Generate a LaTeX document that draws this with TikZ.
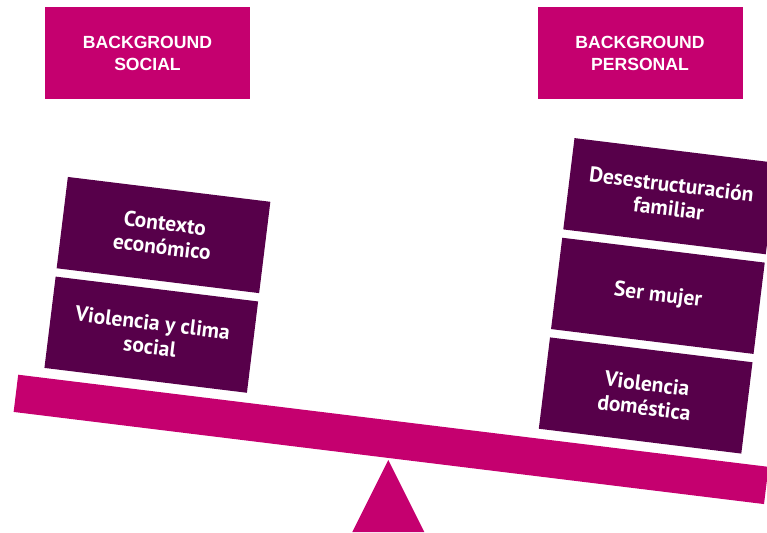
\documentclass[tikz,border=0pt]{standalone}
\usepackage{fontspec}
\setmainfont{PT Sans}
\newfontfamily\headfont{Liberation Sans}
\usetikzlibrary{positioning}
\definecolor{balancepink}{HTML}{C5006F}
\definecolor{balanceplum}{HTML}{57004A}
\tikzset{
  headbox/.style={fill=balancepink,text=white,minimum width=205pt,minimum height=92pt,
    inner sep=0pt,align=center,font=\headfont\bfseries\fontsize{17.6}{22}\selectfont},
  factorbox/.style={fill=balanceplum,text=white,minimum width=204pt,minimum height=92pt,
    inner sep=0pt,align=center,font=\bfseries\fontsize{21.5}{24}\selectfont}
}
\begin{document}
\begin{tikzpicture}[x=1pt,y=1pt]
  \useasboundingbox (0,0) rectangle (767,532);
  % headings
  \node[headbox] (social) at (147.5,479) {BACKGROUND\\SOCIAL};
  \node[headbox] (personal) at (640,479) {BACKGROUND\\PERSONAL};
  % fulcrum
  \coordinate (tip) at (388.3,72);
  \fill[balancepink] (352.3,0) -- (tip) -- (424.3,0) -- cycle;
  % beam and loads
  \begin{scope}[shift={(391.1,92.6)},rotate=-7,transform shape]
    \node[fill=balancepink,minimum width=756pt,minimum height=37.5pt,inner sep=0pt] (beam) at (0,0) {};
    \node[factorbox] (clima) at (-250.8,74.7) {Violencia y clima\\social};
    \node[factorbox,above=8pt of clima] (economia) {Contexto\\económico};
    \node[factorbox] (domestica) at (247.3,74.6) {Violencia\\doméstica};
    \node[factorbox,above=8pt of domestica] (mujer) {Ser mujer};
    \node[factorbox,above=8pt of mujer] (familia) {Desestructuración\\familiar};
  \end{scope}
\end{tikzpicture}
\end{document}
